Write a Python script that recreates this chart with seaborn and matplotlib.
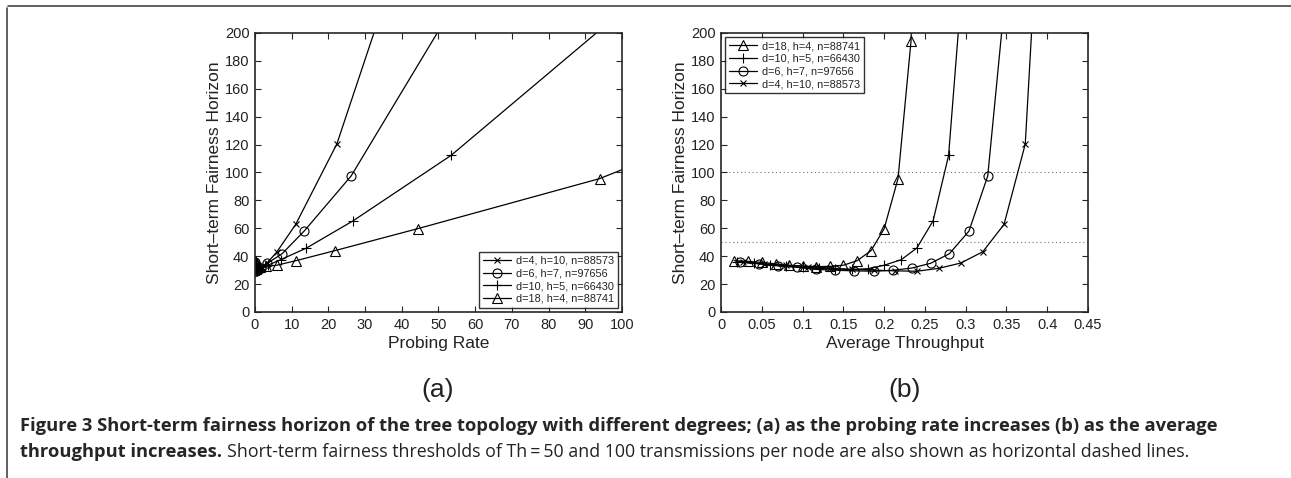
import numpy as np
import pandas as pd
import seaborn as sns
import matplotlib.pyplot as plt
from matplotlib.lines import Line2D

# series values (last point of each lies off the plot)
labels = ["d=4, h=10, n=88573", "d=6, h=7, n=97656",
          "d=10, h=5, n=66430", "d=18, h=4, n=88741"]
markers = ["x", "o", "+", "^"]

rate_d4 = [0.0027, 0.0055, 0.011, 0.022, 0.044, 0.087, 0.17, 0.35, 0.70, 1.5, 3.3, 6.0, 11.1, 22.3, 44.6]
thr_d4 = [0.027, 0.053, 0.080, 0.107, 0.133, 0.160, 0.187, 0.213, 0.240, 0.267, 0.294, 0.321, 0.347, 0.373, 0.390]
hor_d4 = [35.5, 34.5, 33.5, 32.5, 31.5, 30.5, 30, 29.5, 29.2, 31.3, 35.1, 43.2, 62.8, 120.4, 296]

rate_d6 = [0.0032, 0.0064, 0.013, 0.026, 0.051, 0.10, 0.2, 0.41, 0.82, 1.6, 3.4, 7.4, 13.4, 26.2, 52.4]
thr_d6 = [0.023, 0.047, 0.070, 0.093, 0.117, 0.140, 0.163, 0.187, 0.211, 0.234, 0.257, 0.280, 0.304, 0.327, 0.346]
hor_d6 = [36, 34.5, 33, 32, 30.5, 30, 29.5, 29.2, 29.9, 31.5, 34.9, 41.8, 58, 97.5, 212]

rate_d10 = [0.0065, 0.013, 0.026, 0.052, 0.1, 0.21, 0.42, 0.84, 1.7, 3.5, 7.0, 14.0, 26.7, 53.4, 107]
thr_d10 = [0.02, 0.04, 0.06, 0.08, 0.10, 0.12, 0.14, 0.16, 0.18, 0.20, 0.221, 0.24, 0.26, 0.279, 0.295]
hor_d10 = [36, 35, 34, 33, 32, 31.5, 31, 30.5, 31, 33.5, 37.5, 45.8, 65.3, 112.2, 231]

rate_d18 = [0.023, 0.046, 0.092, 0.18, 0.37, 0.73, 1.47, 2.9, 5.9, 11.2, 21.8, 44.3, 93.9, 188, 376]
thr_d18 = [0.016, 0.033, 0.050, 0.067, 0.083, 0.100, 0.117, 0.133, 0.150, 0.167, 0.184, 0.200, 0.217, 0.233, 0.240]
hor_d18 = [36.8, 36.3, 35.5, 34.5, 33.5, 33, 32.5, 32.7, 33.5, 36.8, 44, 59.7, 95.6, 194.5, 400]

thresholds = [50, 100]

rates = [rate_d4, rate_d6, rate_d10, rate_d18]
thrs = [thr_d4, thr_d6, thr_d10, thr_d18]
hors = [hor_d4, hor_d6, hor_d10, hor_d18]

sns.set_style("ticks")
plt.rcParams["font.family"] = ["Liberation Sans", "DejaVu Sans"]

fig = plt.figure(figsize=(12.91, 4.78), dpi=100)
axA = fig.add_axes([0.1975, 0.3473, 0.2843, 0.5837])
axB = fig.add_axes([0.5585, 0.3473, 0.2843, 0.5837])

msize = {"x": 4.0, "o": 6.5, "+": 6.5, "^": 6.5}


def draw_series(ax, xs, order):
    for i in order:
        sns.lineplot(x=xs[i], y=hors[i], ax=ax, color="black", lw=0.9,
                     marker=markers[i], markersize=msize[markers[i]],
                     markerfacecolor="none", markeredgecolor="black",
                     markeredgewidth=0.8, sort=False, estimator=None)


draw_series(axA, rates, [0, 1, 2, 3])
draw_series(axB, thrs, [3, 2, 1, 0])
for t in thresholds:
    axB.axhline(t, color="#777777", lw=0.8, ls=(0, (1, 2.5)), zorder=0)

for ax, xmax, xt in [(axA, 100, np.arange(0, 101, 10)),
                     (axB, 0.45, np.round(np.arange(0, 0.451, 0.05), 2))]:
    ax.set_xlim(0, xmax)
    ax.set_ylim(0, 200)
    ax.set_xticks(xt)
    ax.set_xticklabels([f"{v:g}" for v in xt])
    ax.set_yticks(np.arange(0, 201, 20))
    ax.tick_params(direction="in", top=True, right=True, length=4,
                   width=0.8, labelsize=10.5, labelcolor="#222222", pad=4)
    for s in ax.spines.values():
        s.set_linewidth(1.2)
    ax.set_ylabel("Short\u2013term Fairness Horizon", fontsize=12.5,
                  color="#222222", labelpad=2)

axA.set_xlabel("Probing Rate", fontsize=12.5, color="#222222", labelpad=3)
axB.set_xlabel("Average Throughput", fontsize=12.5, color="#222222", labelpad=3)


def make_legend(ax, order, loc):
    handles = [Line2D([], [], color="black", lw=0.9, marker=markers[i],
                      markersize=msize[markers[i]], markerfacecolor="none",
                      markeredgewidth=0.8) for i in order]
    leg = ax.legend(handles, [labels[i] for i in order], loc=loc,
                    fontsize=7.8, frameon=True, fancybox=False,
                    handlelength=2.6, handletextpad=0.4, labelspacing=0.25,
                    borderpad=0.35, borderaxespad=0.4)
    leg.get_frame().set_edgecolor("black")
    leg.get_frame().set_linewidth(1.0)
    for t in leg.get_texts():
        t.set_color("#222222")


make_legend(axA, [0, 1, 2, 3], "lower right")
make_legend(axB, [3, 2, 1, 0], "upper left")

fig.text(0.3392, 0.184, "(a)", fontsize=19, ha="center", va="center", color="#222222")
fig.text(0.7007, 0.184, "(b)", fontsize=19, ha="center", va="center", color="#222222")

# outer frame of the figure box
fig.add_artist(Line2D([0.0062, 1.0], [0.987, 0.987], color="#444444", lw=1.2,
                      transform=fig.transFigure))
fig.add_artist(Line2D([0.0054, 0.0054], [0.0, 0.983], color="#444444", lw=1.2,
                      transform=fig.transFigure))

cap_font = ["Open Sans", "DejaVu Sans"]
cap_size = 13.2
line1_y = 0.098
line2_y = 0.044
fig.text(0.0155, line1_y, "Figure 3 Short-term fairness horizon of the tree topology with "
         "different degrees; (a) as the probing rate increases (b) as the average",
         fontsize=cap_size, fontweight="bold", family=cap_font, va="baseline")
bold2 = fig.text(0.0155, line2_y, "throughput increases.", fontsize=cap_size,
                 fontweight="bold", family=cap_font, va="baseline")
fig.canvas.draw()
bb = bold2.get_window_extent(renderer=fig.canvas.get_renderer())
x_end = bb.x1 / fig.bbox.width
fig.text(x_end + 0.004, line2_y, "Short-term fairness thresholds of Th\u2009=\u200950 and 100 "
         "transmissions per node are also shown as horizontal dashed lines.",
         fontsize=cap_size - 0.4, family=cap_font, va="baseline", color="#222222")

fig.savefig("out.png", dpi=100)
